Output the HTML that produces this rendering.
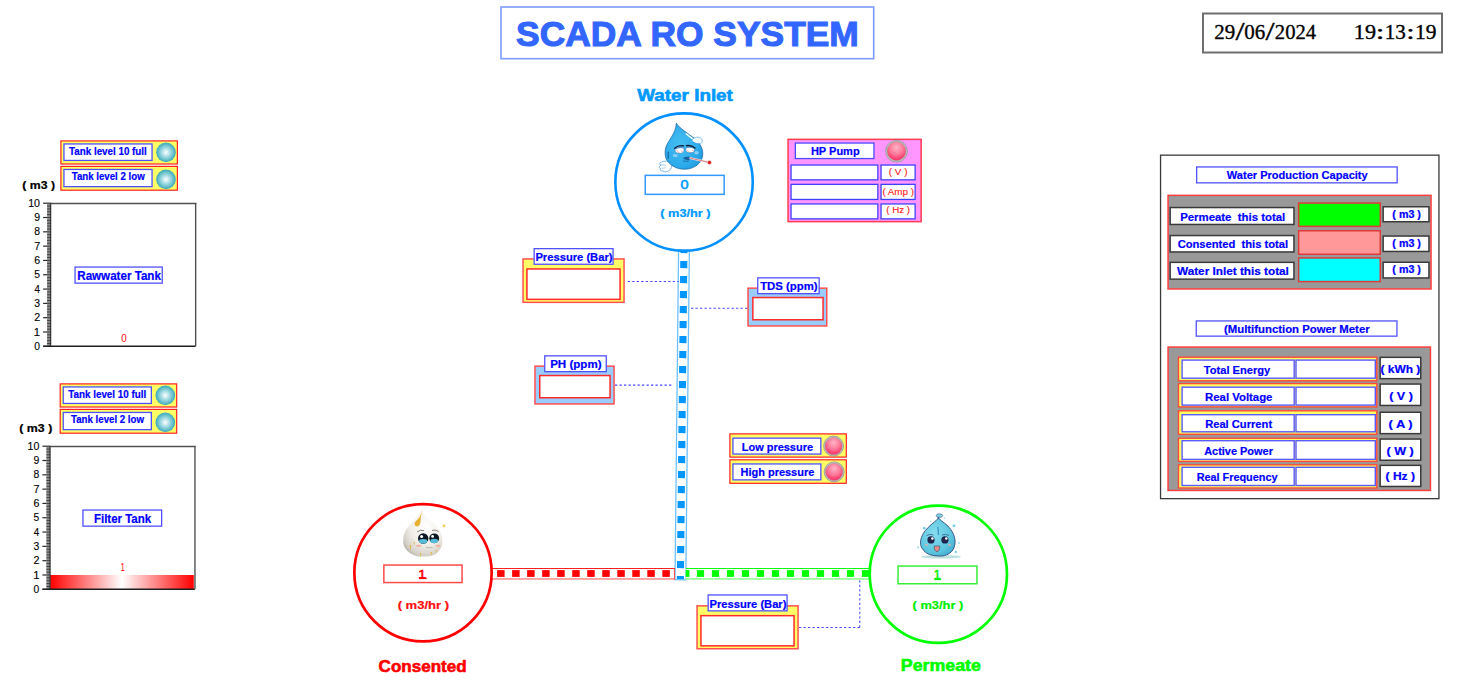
<!DOCTYPE html>
<html><head><meta charset="utf-8"><title>SCADA RO SYSTEM</title>
<style>
html,body{margin:0;padding:0;background:#fff;width:1472px;height:698px;overflow:hidden;}
svg{display:block;}
svg text{white-space:pre;}
</style></head><body>
<svg width="1472" height="698" viewBox="0 0 1472 698">
<defs>
<radialGradient id="gTeal" cx="0.5" cy="0.5" r="0.5"><stop offset="0" stop-color="#ffffff"/><stop offset="0.55" stop-color="#8fd3dc"/><stop offset="1" stop-color="#3aa9b7"/></radialGradient>
<radialGradient id="gRed" cx="0.5" cy="0.35" r="0.65" fx="0.5" fy="0.3"><stop offset="0" stop-color="#ffb4c8"/><stop offset="0.55" stop-color="#ff7898"/><stop offset="1" stop-color="#ff2860"/></radialGradient>
<radialGradient id="gRing" cx="0.5" cy="0.5" r="0.5"><stop offset="0.8" stop-color="#c8c8c8"/><stop offset="1" stop-color="#8a8a8a"/></radialGradient>
<linearGradient id="gBar" x1="0" x2="1" y1="0" y2="0"><stop offset="0" stop-color="#ff0000"/><stop offset="0.5" stop-color="#ffffff"/><stop offset="1" stop-color="#ff0000"/></linearGradient>
<radialGradient id="gWhite" cx="0.6" cy="0.35" r="0.75"><stop offset="0" stop-color="#ffffff"/><stop offset="0.55" stop-color="#f1eee7"/><stop offset="0.85" stop-color="#d4d0c8"/><stop offset="1" stop-color="#b0ada6"/></radialGradient>
<radialGradient id="gAqua" cx="0.4" cy="0.4" r="0.7"><stop offset="0" stop-color="#86dcee"/><stop offset="0.7" stop-color="#5cc6df"/><stop offset="1" stop-color="#44acd0"/></radialGradient>
<radialGradient id="gBlueDrop" cx="0.4" cy="0.45" r="0.7"><stop offset="0" stop-color="#46bef2"/><stop offset="0.7" stop-color="#2caaea"/><stop offset="1" stop-color="#1c96dc"/></radialGradient>
</defs>
<rect x="501.00" y="7.00" width="372.70" height="51.70" fill="#fff" stroke="#7d9cff" stroke-width="1.6" />
<text x="516.04" y="46.10" font-family="Liberation Sans" font-weight="bold" font-size="35.65" fill="#3366ff" textLength="342.81" lengthAdjust="spacingAndGlyphs"  stroke="#3366ff" stroke-width="1.1">SCADA RO SYSTEM</text>
<rect x="1203.00" y="13.50" width="239.00" height="39.00" fill="#fff" stroke="#6e6e6e" stroke-width="2" />
<text x="1214.16" y="38.89" font-family="Liberation Serif" font-weight="normal" font-size="20.74" fill="#000" textLength="20.98" lengthAdjust="spacingAndGlyphs"  stroke="#000" stroke-width="0.35">29</text>
<text x="1235.60" y="39.55" font-family="Liberation Serif" font-weight="normal" font-size="24.78" fill="#000" textLength="9.09" lengthAdjust="spacingAndGlyphs"  stroke="#000" stroke-width="0.35">/</text>
<text x="1244.26" y="38.89" font-family="Liberation Serif" font-weight="normal" font-size="20.74" fill="#000" textLength="20.97" lengthAdjust="spacingAndGlyphs"  stroke="#000" stroke-width="0.35">06</text>
<text x="1265.50" y="39.55" font-family="Liberation Serif" font-weight="normal" font-size="24.78" fill="#000" textLength="9.09" lengthAdjust="spacingAndGlyphs"  stroke="#000" stroke-width="0.35">/</text>
<text x="1274.87" y="38.89" font-family="Liberation Serif" font-weight="normal" font-size="20.74" fill="#000" textLength="41.24" lengthAdjust="spacingAndGlyphs"  stroke="#000" stroke-width="0.35">2024</text>
<text x="1353.80" y="38.79" font-family="Liberation Serif" font-weight="normal" font-size="20.74" fill="#000" textLength="22.18" lengthAdjust="spacingAndGlyphs"  stroke="#000" stroke-width="0.35">19</text>
<text x="1375.80" y="38.70" font-family="Liberation Serif" font-weight="normal" font-size="20.00" fill="#000" textLength="8.70" lengthAdjust="spacingAndGlyphs"  stroke="#000" stroke-width="0.35">:</text>
<text x="1384.81" y="38.79" font-family="Liberation Serif" font-weight="normal" font-size="20.74" fill="#000" textLength="21.03" lengthAdjust="spacingAndGlyphs"  stroke="#000" stroke-width="0.35">13</text>
<text x="1406.17" y="38.70" font-family="Liberation Serif" font-weight="normal" font-size="20.00" fill="#000" textLength="8.46" lengthAdjust="spacingAndGlyphs"  stroke="#000" stroke-width="0.35">:</text>
<text x="1414.97" y="38.79" font-family="Liberation Serif" font-weight="normal" font-size="20.74" fill="#000" textLength="21.49" lengthAdjust="spacingAndGlyphs"  stroke="#000" stroke-width="0.35">19</text>
<rect x="60.90" y="140.90" width="116.50" height="23.10" fill="#ffff66" stroke="#ff2020" stroke-width="1.2" />
<rect x="63.95" y="143.95" width="88.10" height="16.50" fill="#fff" stroke="#5050ff" stroke-width="1.3" />
<text x="69.00" y="155.00" font-family="Liberation Sans" font-weight="bold" font-size="11.03" fill="#0000ff" textLength="77.83" lengthAdjust="spacingAndGlyphs"  stroke="#0000ff" stroke-width="0.22">Tank level 10 full</text>
<circle cx="166" cy="152.4" r="9.8" fill="url(#gTeal)" stroke="none" stroke-width="1" />
<rect x="60.90" y="166.40" width="116.50" height="23.80" fill="#ffff66" stroke="#ff2020" stroke-width="1.2" />
<rect x="63.95" y="169.45" width="88.10" height="17.20" fill="#fff" stroke="#5050ff" stroke-width="1.3" />
<text x="71.70" y="180.00" font-family="Liberation Sans" font-weight="bold" font-size="11.03" fill="#0000ff" textLength="73.00" lengthAdjust="spacingAndGlyphs"  stroke="#0000ff" stroke-width="0.22">Tank level 2 low</text>
<circle cx="166" cy="179.4" r="9.8" fill="url(#gTeal)" stroke="none" stroke-width="1" />
<text x="22.39" y="189.45" font-family="Liberation Sans" font-weight="bold" font-size="11.66" fill="#000" textLength="32.69" lengthAdjust="spacingAndGlyphs"  stroke="#000" stroke-width="0.22">( m3 )</text>
<line x1="47.1" y1="203.45" x2="196.4" y2="203.45" stroke="#505050" stroke-width="1.4" />
<line x1="195.65" y1="203.2" x2="195.65" y2="346.3" stroke="#505050" stroke-width="1.4" />
<rect x="47.10" y="203.20" width="4.00" height="143.10" fill="#8c8c8c" stroke="none" stroke-width="1" />
<line x1="47.1" y1="203.2" x2="51.1" y2="203.2" stroke="#3c3c3c" stroke-width="0.9" />
<line x1="47.1" y1="206.06199999999998" x2="51.1" y2="206.06199999999998" stroke="#3c3c3c" stroke-width="0.9" />
<line x1="47.1" y1="208.92399999999998" x2="51.1" y2="208.92399999999998" stroke="#3c3c3c" stroke-width="0.9" />
<line x1="47.1" y1="211.786" x2="51.1" y2="211.786" stroke="#3c3c3c" stroke-width="0.9" />
<line x1="47.1" y1="214.648" x2="51.1" y2="214.648" stroke="#3c3c3c" stroke-width="0.9" />
<line x1="47.1" y1="217.51" x2="51.1" y2="217.51" stroke="#3c3c3c" stroke-width="0.9" />
<line x1="47.1" y1="220.37199999999999" x2="51.1" y2="220.37199999999999" stroke="#3c3c3c" stroke-width="0.9" />
<line x1="47.1" y1="223.23399999999998" x2="51.1" y2="223.23399999999998" stroke="#3c3c3c" stroke-width="0.9" />
<line x1="47.1" y1="226.096" x2="51.1" y2="226.096" stroke="#3c3c3c" stroke-width="0.9" />
<line x1="47.1" y1="228.958" x2="51.1" y2="228.958" stroke="#3c3c3c" stroke-width="0.9" />
<line x1="47.1" y1="231.82" x2="51.1" y2="231.82" stroke="#3c3c3c" stroke-width="0.9" />
<line x1="47.1" y1="234.682" x2="51.1" y2="234.682" stroke="#3c3c3c" stroke-width="0.9" />
<line x1="47.1" y1="237.54399999999998" x2="51.1" y2="237.54399999999998" stroke="#3c3c3c" stroke-width="0.9" />
<line x1="47.1" y1="240.406" x2="51.1" y2="240.406" stroke="#3c3c3c" stroke-width="0.9" />
<line x1="47.1" y1="243.268" x2="51.1" y2="243.268" stroke="#3c3c3c" stroke-width="0.9" />
<line x1="47.1" y1="246.13" x2="51.1" y2="246.13" stroke="#3c3c3c" stroke-width="0.9" />
<line x1="47.1" y1="248.992" x2="51.1" y2="248.992" stroke="#3c3c3c" stroke-width="0.9" />
<line x1="47.1" y1="251.85399999999998" x2="51.1" y2="251.85399999999998" stroke="#3c3c3c" stroke-width="0.9" />
<line x1="47.1" y1="254.716" x2="51.1" y2="254.716" stroke="#3c3c3c" stroke-width="0.9" />
<line x1="47.1" y1="257.578" x2="51.1" y2="257.578" stroke="#3c3c3c" stroke-width="0.9" />
<line x1="47.1" y1="260.44" x2="51.1" y2="260.44" stroke="#3c3c3c" stroke-width="0.9" />
<line x1="47.1" y1="263.302" x2="51.1" y2="263.302" stroke="#3c3c3c" stroke-width="0.9" />
<line x1="47.1" y1="266.164" x2="51.1" y2="266.164" stroke="#3c3c3c" stroke-width="0.9" />
<line x1="47.1" y1="269.026" x2="51.1" y2="269.026" stroke="#3c3c3c" stroke-width="0.9" />
<line x1="47.1" y1="271.88800000000003" x2="51.1" y2="271.88800000000003" stroke="#3c3c3c" stroke-width="0.9" />
<line x1="47.1" y1="274.75" x2="51.1" y2="274.75" stroke="#3c3c3c" stroke-width="0.9" />
<line x1="47.1" y1="277.61199999999997" x2="51.1" y2="277.61199999999997" stroke="#3c3c3c" stroke-width="0.9" />
<line x1="47.1" y1="280.474" x2="51.1" y2="280.474" stroke="#3c3c3c" stroke-width="0.9" />
<line x1="47.1" y1="283.336" x2="51.1" y2="283.336" stroke="#3c3c3c" stroke-width="0.9" />
<line x1="47.1" y1="286.198" x2="51.1" y2="286.198" stroke="#3c3c3c" stroke-width="0.9" />
<line x1="47.1" y1="289.06" x2="51.1" y2="289.06" stroke="#3c3c3c" stroke-width="0.9" />
<line x1="47.1" y1="291.922" x2="51.1" y2="291.922" stroke="#3c3c3c" stroke-width="0.9" />
<line x1="47.1" y1="294.784" x2="51.1" y2="294.784" stroke="#3c3c3c" stroke-width="0.9" />
<line x1="47.1" y1="297.646" x2="51.1" y2="297.646" stroke="#3c3c3c" stroke-width="0.9" />
<line x1="47.1" y1="300.50800000000004" x2="51.1" y2="300.50800000000004" stroke="#3c3c3c" stroke-width="0.9" />
<line x1="47.1" y1="303.37" x2="51.1" y2="303.37" stroke="#3c3c3c" stroke-width="0.9" />
<line x1="47.1" y1="306.23199999999997" x2="51.1" y2="306.23199999999997" stroke="#3c3c3c" stroke-width="0.9" />
<line x1="47.1" y1="309.094" x2="51.1" y2="309.094" stroke="#3c3c3c" stroke-width="0.9" />
<line x1="47.1" y1="311.956" x2="51.1" y2="311.956" stroke="#3c3c3c" stroke-width="0.9" />
<line x1="47.1" y1="314.818" x2="51.1" y2="314.818" stroke="#3c3c3c" stroke-width="0.9" />
<line x1="47.1" y1="317.68" x2="51.1" y2="317.68" stroke="#3c3c3c" stroke-width="0.9" />
<line x1="47.1" y1="320.54200000000003" x2="51.1" y2="320.54200000000003" stroke="#3c3c3c" stroke-width="0.9" />
<line x1="47.1" y1="323.404" x2="51.1" y2="323.404" stroke="#3c3c3c" stroke-width="0.9" />
<line x1="47.1" y1="326.266" x2="51.1" y2="326.266" stroke="#3c3c3c" stroke-width="0.9" />
<line x1="47.1" y1="329.12800000000004" x2="51.1" y2="329.12800000000004" stroke="#3c3c3c" stroke-width="0.9" />
<line x1="47.1" y1="331.99" x2="51.1" y2="331.99" stroke="#3c3c3c" stroke-width="0.9" />
<line x1="47.1" y1="334.852" x2="51.1" y2="334.852" stroke="#3c3c3c" stroke-width="0.9" />
<line x1="47.1" y1="337.71400000000006" x2="51.1" y2="337.71400000000006" stroke="#3c3c3c" stroke-width="0.9" />
<line x1="47.1" y1="340.576" x2="51.1" y2="340.576" stroke="#3c3c3c" stroke-width="0.9" />
<line x1="47.1" y1="343.438" x2="51.1" y2="343.438" stroke="#3c3c3c" stroke-width="0.9" />
<line x1="47.1" y1="346.3" x2="51.1" y2="346.3" stroke="#3c3c3c" stroke-width="0.9" />
<line x1="50.7" y1="203.2" x2="50.7" y2="346.3" stroke="#2a2a2a" stroke-width="1" />
<line x1="43.1" y1="346.3" x2="195.5" y2="346.3" stroke="#1e1e1e" stroke-width="1.6" />
<line x1="43.1" y1="346.3" x2="47.1" y2="346.3" stroke="#2a2a2a" stroke-width="1.2" />
<text x="34.29" y="349.94" font-family="Liberation Sans" font-weight="normal" font-size="10.56" fill="#000" textLength="5.74" lengthAdjust="spacingAndGlyphs"  stroke="#000" stroke-width="0.12">0</text>
<line x1="43.1" y1="331.99" x2="47.1" y2="331.99" stroke="#2a2a2a" stroke-width="1.2" />
<text x="33.86" y="335.63" font-family="Liberation Sans" font-weight="normal" font-size="10.56" fill="#000" textLength="6.26" lengthAdjust="spacingAndGlyphs"  stroke="#000" stroke-width="0.12">1</text>
<line x1="43.1" y1="317.68" x2="47.1" y2="317.68" stroke="#2a2a2a" stroke-width="1.2" />
<text x="34.16" y="321.32" font-family="Liberation Sans" font-weight="normal" font-size="10.56" fill="#000" textLength="5.99" lengthAdjust="spacingAndGlyphs"  stroke="#000" stroke-width="0.12">2</text>
<line x1="43.1" y1="303.37" x2="47.1" y2="303.37" stroke="#2a2a2a" stroke-width="1.2" />
<text x="34.28" y="307.01" font-family="Liberation Sans" font-weight="normal" font-size="10.56" fill="#000" textLength="5.80" lengthAdjust="spacingAndGlyphs"  stroke="#000" stroke-width="0.12">3</text>
<line x1="43.1" y1="289.06" x2="47.1" y2="289.06" stroke="#2a2a2a" stroke-width="1.2" />
<text x="34.46" y="292.70" font-family="Liberation Sans" font-weight="normal" font-size="10.56" fill="#000" textLength="5.45" lengthAdjust="spacingAndGlyphs"  stroke="#000" stroke-width="0.12">4</text>
<line x1="43.1" y1="274.75" x2="47.1" y2="274.75" stroke="#2a2a2a" stroke-width="1.2" />
<text x="34.29" y="278.39" font-family="Liberation Sans" font-weight="normal" font-size="10.56" fill="#000" textLength="5.74" lengthAdjust="spacingAndGlyphs"  stroke="#000" stroke-width="0.12">5</text>
<line x1="43.1" y1="260.44" x2="47.1" y2="260.44" stroke="#2a2a2a" stroke-width="1.2" />
<text x="34.17" y="264.08" font-family="Liberation Sans" font-weight="normal" font-size="10.56" fill="#000" textLength="5.92" lengthAdjust="spacingAndGlyphs"  stroke="#000" stroke-width="0.12">6</text>
<line x1="43.1" y1="246.13" x2="47.1" y2="246.13" stroke="#2a2a2a" stroke-width="1.2" />
<text x="34.16" y="249.77" font-family="Liberation Sans" font-weight="normal" font-size="10.56" fill="#000" textLength="5.99" lengthAdjust="spacingAndGlyphs"  stroke="#000" stroke-width="0.12">7</text>
<line x1="43.1" y1="231.82" x2="47.1" y2="231.82" stroke="#2a2a2a" stroke-width="1.2" />
<text x="34.23" y="235.46" font-family="Liberation Sans" font-weight="normal" font-size="10.56" fill="#000" textLength="5.80" lengthAdjust="spacingAndGlyphs"  stroke="#000" stroke-width="0.12">8</text>
<line x1="43.1" y1="217.51" x2="47.1" y2="217.51" stroke="#2a2a2a" stroke-width="1.2" />
<text x="34.23" y="221.15" font-family="Liberation Sans" font-weight="normal" font-size="10.56" fill="#000" textLength="5.86" lengthAdjust="spacingAndGlyphs"  stroke="#000" stroke-width="0.12">9</text>
<line x1="43.1" y1="203.2" x2="47.1" y2="203.2" stroke="#2a2a2a" stroke-width="1.2" />
<text x="28.20" y="206.84" font-family="Liberation Sans" font-weight="normal" font-size="10.56" fill="#000" textLength="11.85" lengthAdjust="spacingAndGlyphs"  stroke="#000" stroke-width="0.12">10</text>
<rect x="75.05" y="267.05" width="87.20" height="16.10" fill="#fff" stroke="#5050ff" stroke-width="1.3" />
<text x="77.25" y="280.00" font-family="Liberation Sans" font-weight="bold" font-size="12.41" fill="#0000ff" textLength="83.67" lengthAdjust="spacingAndGlyphs"  stroke="#0000ff" stroke-width="0.22">Rawwater Tank</text>
<text x="121.21" y="341.89" font-family="Liberation Sans" font-weight="normal" font-size="10.56" fill="#ff2020" textLength="5.39" lengthAdjust="spacingAndGlyphs"  stroke="#ff2020" stroke-width="0.12">0</text>
<rect x="60.20" y="383.90" width="116.50" height="23.10" fill="#ffff66" stroke="#ff2020" stroke-width="1.2" />
<rect x="63.25" y="386.95" width="88.10" height="16.50" fill="#fff" stroke="#5050ff" stroke-width="1.3" />
<text x="68.30" y="398.00" font-family="Liberation Sans" font-weight="bold" font-size="11.03" fill="#0000ff" textLength="77.83" lengthAdjust="spacingAndGlyphs"  stroke="#0000ff" stroke-width="0.22">Tank level 10 full</text>
<circle cx="165.3" cy="395.4" r="9.8" fill="url(#gTeal)" stroke="none" stroke-width="1" />
<rect x="60.20" y="409.40" width="116.50" height="23.80" fill="#ffff66" stroke="#ff2020" stroke-width="1.2" />
<rect x="63.25" y="412.45" width="88.10" height="17.20" fill="#fff" stroke="#5050ff" stroke-width="1.3" />
<text x="71.00" y="423.00" font-family="Liberation Sans" font-weight="bold" font-size="11.03" fill="#0000ff" textLength="73.00" lengthAdjust="spacingAndGlyphs"  stroke="#0000ff" stroke-width="0.22">Tank level 2 low</text>
<circle cx="165.3" cy="422.4" r="9.8" fill="url(#gTeal)" stroke="none" stroke-width="1" />
<text x="19.28" y="432.45" font-family="Liberation Sans" font-weight="bold" font-size="11.66" fill="#000" textLength="33.00" lengthAdjust="spacingAndGlyphs"  stroke="#000" stroke-width="0.22">( m3 )</text>
<rect x="50.00" y="574.99" width="143.80" height="14.31" fill="url(#gBar)" stroke="none" stroke-width="1" />
<line x1="46.4" y1="446.45" x2="195.70000000000002" y2="446.45" stroke="#505050" stroke-width="1.4" />
<line x1="194.95000000000002" y1="446.2" x2="194.95000000000002" y2="589.3" stroke="#505050" stroke-width="1.4" />
<rect x="46.40" y="446.20" width="4.00" height="143.10" fill="#8c8c8c" stroke="none" stroke-width="1" />
<line x1="46.4" y1="446.2" x2="50.4" y2="446.2" stroke="#3c3c3c" stroke-width="0.9" />
<line x1="46.4" y1="449.062" x2="50.4" y2="449.062" stroke="#3c3c3c" stroke-width="0.9" />
<line x1="46.4" y1="451.924" x2="50.4" y2="451.924" stroke="#3c3c3c" stroke-width="0.9" />
<line x1="46.4" y1="454.786" x2="50.4" y2="454.786" stroke="#3c3c3c" stroke-width="0.9" />
<line x1="46.4" y1="457.64799999999997" x2="50.4" y2="457.64799999999997" stroke="#3c3c3c" stroke-width="0.9" />
<line x1="46.4" y1="460.51" x2="50.4" y2="460.51" stroke="#3c3c3c" stroke-width="0.9" />
<line x1="46.4" y1="463.37199999999996" x2="50.4" y2="463.37199999999996" stroke="#3c3c3c" stroke-width="0.9" />
<line x1="46.4" y1="466.234" x2="50.4" y2="466.234" stroke="#3c3c3c" stroke-width="0.9" />
<line x1="46.4" y1="469.096" x2="50.4" y2="469.096" stroke="#3c3c3c" stroke-width="0.9" />
<line x1="46.4" y1="471.95799999999997" x2="50.4" y2="471.95799999999997" stroke="#3c3c3c" stroke-width="0.9" />
<line x1="46.4" y1="474.82" x2="50.4" y2="474.82" stroke="#3c3c3c" stroke-width="0.9" />
<line x1="46.4" y1="477.68199999999996" x2="50.4" y2="477.68199999999996" stroke="#3c3c3c" stroke-width="0.9" />
<line x1="46.4" y1="480.544" x2="50.4" y2="480.544" stroke="#3c3c3c" stroke-width="0.9" />
<line x1="46.4" y1="483.406" x2="50.4" y2="483.406" stroke="#3c3c3c" stroke-width="0.9" />
<line x1="46.4" y1="486.268" x2="50.4" y2="486.268" stroke="#3c3c3c" stroke-width="0.9" />
<line x1="46.4" y1="489.13" x2="50.4" y2="489.13" stroke="#3c3c3c" stroke-width="0.9" />
<line x1="46.4" y1="491.99199999999996" x2="50.4" y2="491.99199999999996" stroke="#3c3c3c" stroke-width="0.9" />
<line x1="46.4" y1="494.854" x2="50.4" y2="494.854" stroke="#3c3c3c" stroke-width="0.9" />
<line x1="46.4" y1="497.71599999999995" x2="50.4" y2="497.71599999999995" stroke="#3c3c3c" stroke-width="0.9" />
<line x1="46.4" y1="500.578" x2="50.4" y2="500.578" stroke="#3c3c3c" stroke-width="0.9" />
<line x1="46.4" y1="503.44" x2="50.4" y2="503.44" stroke="#3c3c3c" stroke-width="0.9" />
<line x1="46.4" y1="506.30199999999996" x2="50.4" y2="506.30199999999996" stroke="#3c3c3c" stroke-width="0.9" />
<line x1="46.4" y1="509.164" x2="50.4" y2="509.164" stroke="#3c3c3c" stroke-width="0.9" />
<line x1="46.4" y1="512.026" x2="50.4" y2="512.026" stroke="#3c3c3c" stroke-width="0.9" />
<line x1="46.4" y1="514.8879999999999" x2="50.4" y2="514.8879999999999" stroke="#3c3c3c" stroke-width="0.9" />
<line x1="46.4" y1="517.75" x2="50.4" y2="517.75" stroke="#3c3c3c" stroke-width="0.9" />
<line x1="46.4" y1="520.612" x2="50.4" y2="520.612" stroke="#3c3c3c" stroke-width="0.9" />
<line x1="46.4" y1="523.4739999999999" x2="50.4" y2="523.4739999999999" stroke="#3c3c3c" stroke-width="0.9" />
<line x1="46.4" y1="526.336" x2="50.4" y2="526.336" stroke="#3c3c3c" stroke-width="0.9" />
<line x1="46.4" y1="529.198" x2="50.4" y2="529.198" stroke="#3c3c3c" stroke-width="0.9" />
<line x1="46.4" y1="532.06" x2="50.4" y2="532.06" stroke="#3c3c3c" stroke-width="0.9" />
<line x1="46.4" y1="534.922" x2="50.4" y2="534.922" stroke="#3c3c3c" stroke-width="0.9" />
<line x1="46.4" y1="537.784" x2="50.4" y2="537.784" stroke="#3c3c3c" stroke-width="0.9" />
<line x1="46.4" y1="540.646" x2="50.4" y2="540.646" stroke="#3c3c3c" stroke-width="0.9" />
<line x1="46.4" y1="543.5079999999999" x2="50.4" y2="543.5079999999999" stroke="#3c3c3c" stroke-width="0.9" />
<line x1="46.4" y1="546.37" x2="50.4" y2="546.37" stroke="#3c3c3c" stroke-width="0.9" />
<line x1="46.4" y1="549.232" x2="50.4" y2="549.232" stroke="#3c3c3c" stroke-width="0.9" />
<line x1="46.4" y1="552.0939999999999" x2="50.4" y2="552.0939999999999" stroke="#3c3c3c" stroke-width="0.9" />
<line x1="46.4" y1="554.9559999999999" x2="50.4" y2="554.9559999999999" stroke="#3c3c3c" stroke-width="0.9" />
<line x1="46.4" y1="557.818" x2="50.4" y2="557.818" stroke="#3c3c3c" stroke-width="0.9" />
<line x1="46.4" y1="560.68" x2="50.4" y2="560.68" stroke="#3c3c3c" stroke-width="0.9" />
<line x1="46.4" y1="563.5419999999999" x2="50.4" y2="563.5419999999999" stroke="#3c3c3c" stroke-width="0.9" />
<line x1="46.4" y1="566.404" x2="50.4" y2="566.404" stroke="#3c3c3c" stroke-width="0.9" />
<line x1="46.4" y1="569.266" x2="50.4" y2="569.266" stroke="#3c3c3c" stroke-width="0.9" />
<line x1="46.4" y1="572.1279999999999" x2="50.4" y2="572.1279999999999" stroke="#3c3c3c" stroke-width="0.9" />
<line x1="46.4" y1="574.99" x2="50.4" y2="574.99" stroke="#3c3c3c" stroke-width="0.9" />
<line x1="46.4" y1="577.852" x2="50.4" y2="577.852" stroke="#3c3c3c" stroke-width="0.9" />
<line x1="46.4" y1="580.7139999999999" x2="50.4" y2="580.7139999999999" stroke="#3c3c3c" stroke-width="0.9" />
<line x1="46.4" y1="583.576" x2="50.4" y2="583.576" stroke="#3c3c3c" stroke-width="0.9" />
<line x1="46.4" y1="586.438" x2="50.4" y2="586.438" stroke="#3c3c3c" stroke-width="0.9" />
<line x1="46.4" y1="589.3" x2="50.4" y2="589.3" stroke="#3c3c3c" stroke-width="0.9" />
<line x1="50.0" y1="446.2" x2="50.0" y2="589.3" stroke="#2a2a2a" stroke-width="1" />
<line x1="42.4" y1="589.3" x2="194.8" y2="589.3" stroke="#1e1e1e" stroke-width="1.6" />
<line x1="42.4" y1="589.3" x2="46.4" y2="589.3" stroke="#2a2a2a" stroke-width="1.2" />
<text x="33.59" y="592.94" font-family="Liberation Sans" font-weight="normal" font-size="10.56" fill="#000" textLength="5.74" lengthAdjust="spacingAndGlyphs"  stroke="#000" stroke-width="0.12">0</text>
<line x1="42.4" y1="574.99" x2="46.4" y2="574.99" stroke="#2a2a2a" stroke-width="1.2" />
<text x="33.16" y="578.63" font-family="Liberation Sans" font-weight="normal" font-size="10.56" fill="#000" textLength="6.26" lengthAdjust="spacingAndGlyphs"  stroke="#000" stroke-width="0.12">1</text>
<line x1="42.4" y1="560.68" x2="46.4" y2="560.68" stroke="#2a2a2a" stroke-width="1.2" />
<text x="33.46" y="564.32" font-family="Liberation Sans" font-weight="normal" font-size="10.56" fill="#000" textLength="5.99" lengthAdjust="spacingAndGlyphs"  stroke="#000" stroke-width="0.12">2</text>
<line x1="42.4" y1="546.37" x2="46.4" y2="546.37" stroke="#2a2a2a" stroke-width="1.2" />
<text x="33.58" y="550.01" font-family="Liberation Sans" font-weight="normal" font-size="10.56" fill="#000" textLength="5.80" lengthAdjust="spacingAndGlyphs"  stroke="#000" stroke-width="0.12">3</text>
<line x1="42.4" y1="532.06" x2="46.4" y2="532.06" stroke="#2a2a2a" stroke-width="1.2" />
<text x="33.76" y="535.70" font-family="Liberation Sans" font-weight="normal" font-size="10.56" fill="#000" textLength="5.45" lengthAdjust="spacingAndGlyphs"  stroke="#000" stroke-width="0.12">4</text>
<line x1="42.4" y1="517.75" x2="46.4" y2="517.75" stroke="#2a2a2a" stroke-width="1.2" />
<text x="33.59" y="521.39" font-family="Liberation Sans" font-weight="normal" font-size="10.56" fill="#000" textLength="5.74" lengthAdjust="spacingAndGlyphs"  stroke="#000" stroke-width="0.12">5</text>
<line x1="42.4" y1="503.43999999999994" x2="46.4" y2="503.43999999999994" stroke="#2a2a2a" stroke-width="1.2" />
<text x="33.47" y="507.08" font-family="Liberation Sans" font-weight="normal" font-size="10.56" fill="#000" textLength="5.92" lengthAdjust="spacingAndGlyphs"  stroke="#000" stroke-width="0.12">6</text>
<line x1="42.4" y1="489.13" x2="46.4" y2="489.13" stroke="#2a2a2a" stroke-width="1.2" />
<text x="33.46" y="492.77" font-family="Liberation Sans" font-weight="normal" font-size="10.56" fill="#000" textLength="5.99" lengthAdjust="spacingAndGlyphs"  stroke="#000" stroke-width="0.12">7</text>
<line x1="42.4" y1="474.82" x2="46.4" y2="474.82" stroke="#2a2a2a" stroke-width="1.2" />
<text x="33.53" y="478.46" font-family="Liberation Sans" font-weight="normal" font-size="10.56" fill="#000" textLength="5.80" lengthAdjust="spacingAndGlyphs"  stroke="#000" stroke-width="0.12">8</text>
<line x1="42.4" y1="460.51" x2="46.4" y2="460.51" stroke="#2a2a2a" stroke-width="1.2" />
<text x="33.53" y="464.15" font-family="Liberation Sans" font-weight="normal" font-size="10.56" fill="#000" textLength="5.86" lengthAdjust="spacingAndGlyphs"  stroke="#000" stroke-width="0.12">9</text>
<line x1="42.4" y1="446.2" x2="46.4" y2="446.2" stroke="#2a2a2a" stroke-width="1.2" />
<text x="27.50" y="449.84" font-family="Liberation Sans" font-weight="normal" font-size="10.56" fill="#000" textLength="11.85" lengthAdjust="spacingAndGlyphs"  stroke="#000" stroke-width="0.12">10</text>
<rect x="82.95" y="510.05" width="78.70" height="16.10" fill="#fff" stroke="#5050ff" stroke-width="1.3" />
<text x="93.95" y="523.00" font-family="Liberation Sans" font-weight="bold" font-size="12.41" fill="#0000ff" textLength="57.17" lengthAdjust="spacingAndGlyphs"  stroke="#0000ff" stroke-width="0.22">Filter Tank</text>
<text x="120.61" y="570.89" font-family="Liberation Sans" font-weight="normal" font-size="10.56" fill="#ff2020" textLength="4.35" lengthAdjust="spacingAndGlyphs"  stroke="#ff2020" stroke-width="0.12">1</text>
<g transform="rotate(0.62 683.95 252)">
<rect x="678.55" y="250.00" width="10.80" height="329.70" fill="#fff" stroke="#6ec0ff" stroke-width="1.3" />
<rect x="680.35" y="250.50" width="7.10" height="2.65" fill="#0096ff" stroke="none" stroke-width="1" />
<rect x="680.35" y="261.05" width="7.10" height="7.10" fill="#0096ff" stroke="none" stroke-width="1" />
<rect x="680.35" y="276.05" width="7.10" height="7.10" fill="#0096ff" stroke="none" stroke-width="1" />
<rect x="680.35" y="291.05" width="7.10" height="7.10" fill="#0096ff" stroke="none" stroke-width="1" />
<rect x="680.35" y="306.05" width="7.10" height="7.10" fill="#0096ff" stroke="none" stroke-width="1" />
<rect x="680.35" y="321.05" width="7.10" height="7.10" fill="#0096ff" stroke="none" stroke-width="1" />
<rect x="680.35" y="336.05" width="7.10" height="7.10" fill="#0096ff" stroke="none" stroke-width="1" />
<rect x="680.35" y="351.05" width="7.10" height="7.10" fill="#0096ff" stroke="none" stroke-width="1" />
<rect x="680.35" y="366.05" width="7.10" height="7.10" fill="#0096ff" stroke="none" stroke-width="1" />
<rect x="680.35" y="381.05" width="7.10" height="7.10" fill="#0096ff" stroke="none" stroke-width="1" />
<rect x="680.35" y="396.05" width="7.10" height="7.10" fill="#0096ff" stroke="none" stroke-width="1" />
<rect x="680.35" y="411.05" width="7.10" height="7.10" fill="#0096ff" stroke="none" stroke-width="1" />
<rect x="680.35" y="426.05" width="7.10" height="7.10" fill="#0096ff" stroke="none" stroke-width="1" />
<rect x="680.35" y="441.05" width="7.10" height="7.10" fill="#0096ff" stroke="none" stroke-width="1" />
<rect x="680.35" y="456.05" width="7.10" height="7.10" fill="#0096ff" stroke="none" stroke-width="1" />
<rect x="680.35" y="471.05" width="7.10" height="7.10" fill="#0096ff" stroke="none" stroke-width="1" />
<rect x="680.35" y="486.05" width="7.10" height="7.10" fill="#0096ff" stroke="none" stroke-width="1" />
<rect x="680.35" y="501.05" width="7.10" height="7.10" fill="#0096ff" stroke="none" stroke-width="1" />
<rect x="680.35" y="516.05" width="7.10" height="7.10" fill="#0096ff" stroke="none" stroke-width="1" />
<rect x="680.35" y="531.05" width="7.10" height="7.10" fill="#0096ff" stroke="none" stroke-width="1" />
<rect x="680.35" y="546.05" width="7.10" height="7.10" fill="#0096ff" stroke="none" stroke-width="1" />
<rect x="680.35" y="561.05" width="7.10" height="7.10" fill="#0096ff" stroke="none" stroke-width="1" />
<rect x="680.35" y="576.05" width="7.10" height="3.05" fill="#0096ff" stroke="none" stroke-width="1" />
</g>
<rect x="491.00" y="568.00" width="184.00" height="11.70" fill="#fff" stroke="none" stroke-width="1" />
<line x1="491" y1="568.45" x2="675" y2="568.45" stroke="#ff2020" stroke-width="1.1" />
<rect x="491.00" y="578.20" width="184.00" height="1.50" fill="#ff8a8a" stroke="none" stroke-width="1" />
<line x1="674.4" y1="568" x2="674.4" y2="579.7" stroke="#ff4040" stroke-width="1" />
<rect x="497.10" y="570.10" width="7.50" height="6.80" fill="#ff0000" stroke="none" stroke-width="1" />
<rect x="512.12" y="570.10" width="7.50" height="6.80" fill="#ff0000" stroke="none" stroke-width="1" />
<rect x="527.14" y="570.10" width="7.50" height="6.80" fill="#ff0000" stroke="none" stroke-width="1" />
<rect x="542.16" y="570.10" width="7.50" height="6.80" fill="#ff0000" stroke="none" stroke-width="1" />
<rect x="557.18" y="570.10" width="7.50" height="6.80" fill="#ff0000" stroke="none" stroke-width="1" />
<rect x="572.20" y="570.10" width="7.50" height="6.80" fill="#ff0000" stroke="none" stroke-width="1" />
<rect x="587.22" y="570.10" width="7.50" height="6.80" fill="#ff0000" stroke="none" stroke-width="1" />
<rect x="602.24" y="570.10" width="7.50" height="6.80" fill="#ff0000" stroke="none" stroke-width="1" />
<rect x="617.26" y="570.10" width="7.50" height="6.80" fill="#ff0000" stroke="none" stroke-width="1" />
<rect x="632.28" y="570.10" width="7.50" height="6.80" fill="#ff0000" stroke="none" stroke-width="1" />
<rect x="647.30" y="570.10" width="7.50" height="6.80" fill="#ff0000" stroke="none" stroke-width="1" />
<rect x="662.32" y="570.10" width="7.50" height="6.80" fill="#ff0000" stroke="none" stroke-width="1" />
<rect x="685.70" y="568.00" width="184.30" height="11.70" fill="#fff" stroke="none" stroke-width="1" />
<line x1="685.7" y1="568.45" x2="870" y2="568.45" stroke="#10ff10" stroke-width="1.1" />
<rect x="685.70" y="578.20" width="184.30" height="1.50" fill="#8cff8c" stroke="none" stroke-width="1" />
<rect x="685.70" y="570.10" width="3.70" height="6.80" fill="#00ff00" stroke="none" stroke-width="1" />
<rect x="696.90" y="570.10" width="7.20" height="6.80" fill="#00ff00" stroke="none" stroke-width="1" />
<rect x="711.90" y="570.10" width="7.20" height="6.80" fill="#00ff00" stroke="none" stroke-width="1" />
<rect x="726.90" y="570.10" width="7.20" height="6.80" fill="#00ff00" stroke="none" stroke-width="1" />
<rect x="741.90" y="570.10" width="7.20" height="6.80" fill="#00ff00" stroke="none" stroke-width="1" />
<rect x="756.90" y="570.10" width="7.20" height="6.80" fill="#00ff00" stroke="none" stroke-width="1" />
<rect x="771.90" y="570.10" width="7.20" height="6.80" fill="#00ff00" stroke="none" stroke-width="1" />
<rect x="786.90" y="570.10" width="7.20" height="6.80" fill="#00ff00" stroke="none" stroke-width="1" />
<rect x="801.90" y="570.10" width="7.20" height="6.80" fill="#00ff00" stroke="none" stroke-width="1" />
<rect x="816.90" y="570.10" width="7.20" height="6.80" fill="#00ff00" stroke="none" stroke-width="1" />
<rect x="831.90" y="570.10" width="7.20" height="6.80" fill="#00ff00" stroke="none" stroke-width="1" />
<rect x="846.90" y="570.10" width="7.20" height="6.80" fill="#00ff00" stroke="none" stroke-width="1" />
<rect x="861.90" y="570.10" width="7.10" height="6.80" fill="#00ff00" stroke="none" stroke-width="1" />
<line x1="627.7" y1="281.45" x2="678.5" y2="281.45" stroke="#4848ff" stroke-width="1.05" stroke-dasharray="2.3 2.2"/>
<line x1="615" y1="385.1" x2="672.4" y2="385.1" stroke="#4848ff" stroke-width="1.05" stroke-dasharray="2.3 2.2"/>
<line x1="691" y1="308.2" x2="747.3" y2="308.2" stroke="#4848ff" stroke-width="1.05" stroke-dasharray="2.3 2.2"/>
<line x1="799" y1="627.5" x2="859.8" y2="627.5" stroke="#4848ff" stroke-width="1.05" stroke-dasharray="2.3 2.2"/>
<line x1="859.8" y1="627.5" x2="859.8" y2="580.3" stroke="#4848ff" stroke-width="1.05" stroke-dasharray="2.3 2.2"/>
<circle cx="684.05" cy="182.1" r="68.7" fill="none" stroke="#0090ff" stroke-width="2.6" />
<circle cx="423" cy="572.7" r="68.65" fill="none" stroke="#ff0000" stroke-width="2.7" />
<circle cx="938.35" cy="574.2" r="68.65" fill="none" stroke="#00ff00" stroke-width="2.7" />
<rect x="645.25" y="175.35" width="78.90" height="19.00" fill="#fff" stroke="#3399ff" stroke-width="1.5" />
<rect x="383.85" y="565.05" width="78.20" height="17.50" fill="#fff" stroke="#ff4a4a" stroke-width="1.5" />
<rect x="898.05" y="566.05" width="78.90" height="17.70" fill="#fff" stroke="#38ee38" stroke-width="1.5" />
<text x="680.62" y="189.27" font-family="Liberation Sans" font-weight="normal" font-size="12.96" fill="#0099ff" textLength="8.08" lengthAdjust="spacingAndGlyphs"  stroke="#0099ff" stroke-width="0.55">0</text>
<text x="418.17" y="577.89" font-family="Liberation Sans" font-weight="normal" font-size="11.41" fill="#ff0000" textLength="7.67" lengthAdjust="spacingAndGlyphs"  stroke="#ff0000" stroke-width="0.5">1</text>
<rect x="419.00" y="577.60" width="7.60" height="1.50" fill="#ff0000" stroke="none" stroke-width="1" />
<text x="933.69" y="578.78" font-family="Liberation Sans" font-weight="normal" font-size="12.25" fill="#00ee00" textLength="6.78" lengthAdjust="spacingAndGlyphs"  stroke="#00ee00" stroke-width="0.5">1</text>
<rect x="934.30" y="578.60" width="6.90" height="1.50" fill="#00ee00" stroke="none" stroke-width="1" />
<text x="660.26" y="217.24" font-family="Liberation Sans" font-weight="bold" font-size="11.23" fill="#0099ff" textLength="50.37" lengthAdjust="spacingAndGlyphs"  stroke="#0099ff" stroke-width="0.22">( m3/hr )</text>
<text x="397.65" y="608.61" font-family="Liberation Sans" font-weight="bold" font-size="10.91" fill="#ff1010" textLength="51.50" lengthAdjust="spacingAndGlyphs"  stroke="#ff1010" stroke-width="0.22">( m3/hr )</text>
<text x="912.56" y="609.30" font-family="Liberation Sans" font-weight="bold" font-size="11.44" fill="#00ee00" textLength="50.79" lengthAdjust="spacingAndGlyphs"  stroke="#00ee00" stroke-width="0.22">( m3/hr )</text>
<text x="637.30" y="100.60" font-family="Liberation Sans" font-weight="bold" font-size="16.38" fill="#0099ff" textLength="95.58" lengthAdjust="spacingAndGlyphs"  stroke="#0099ff" stroke-width="0.6">Water Inlet</text>
<text x="378.62" y="671.80" font-family="Liberation Sans" font-weight="bold" font-size="16.81" fill="#ff0000" textLength="88.03" lengthAdjust="spacingAndGlyphs"  stroke="#ff0000" stroke-width="0.6">Consented</text>
<text x="900.84" y="670.50" font-family="Liberation Sans" font-weight="bold" font-size="16.67" fill="#00ff00" textLength="80.13" lengthAdjust="spacingAndGlyphs"  stroke="#00ff00" stroke-width="0.6">Permeate</text>
<g>
<path d="M670.5,162 C667,160.5 662.5,161 660.5,162.5 C659,163.5 659.5,165 661.5,165 C659,166 658.5,168 660.5,168.5 C659.5,170 661,171.5 663,171 C664,172.5 667,172 669,170.5 C671.5,169 672.5,166 671.5,163.5 Z" fill="#fff" stroke="#2a8ad0" stroke-width="0.6"/>
<path d="M662,165 L666,165 M661.5,168.3 L665.5,167.8" stroke="#2a8ad0" stroke-width="0.4"/>
<path d="M676.3,123.2 C680,129 688,133 695,139 C701,144 703.5,150 702.6,156 C701.5,163 695,168.5 686,169.2 C677,169.8 669,165 666,158.5 C664,152 665.5,146 669,141 C672.5,135.5 676,130 676.3,123.2 Z" fill="url(#gBlueDrop)" stroke="#16609e" stroke-width="0.7"/>
<path d="M686.3,133.8 L692.3,138.6" stroke="#e8f8ff" stroke-width="1.6" stroke-linecap="round"/>
<path d="M692,140.8 C692.5,137.5 697,136.5 700,137.5 C702.5,138.5 702.8,141.5 701.5,143 C699,144.3 695,143.5 692,140.8 Z" fill="#fff" stroke="#3a9ad8" stroke-width="0.6"/>
<path d="M695,138.5 L699.5,142.5 M697.5,137.5 L701.5,140.5" stroke="#8cc8ee" stroke-width="0.4"/>
<path d="M668.2,151.7 L668.2,158.7" stroke="#0d4a8a" stroke-width="0.9"/>
<ellipse cx="679.5" cy="149.9" rx="4.5" ry="3.4" fill="#fff" stroke="#1a5a9a" stroke-width="0.4"/>
<ellipse cx="690.2" cy="149.6" rx="4.4" ry="3.2" fill="#fff" stroke="#1a5a9a" stroke-width="0.4"/>
<path d="M675.3,148.3 Q679.5,145.6 683.8,147.4 L683.8,148.4 Q679.5,147 675.3,149.4 Z M686,147.2 Q690.2,145.4 694.4,148.1 L694.4,149 Q690.2,146.8 686,148.2 Z" fill="#4a90d0"/>
<path d="M674.6,148.2 Q678.5,145 683.6,145.9 M686.4,145.7 Q691,144.8 695,148" stroke="#081830" stroke-width="1.3" fill="none" stroke-linecap="round"/>
<path d="M676.5,150.5 l1.2,0.8 M678.5,151.8 l0.3,0.9 M681.5,150.8 l1,1 M687.5,150.5 l1,0.9 M690,151.8 l0.3,0.8 M692.5,150.3 l0.8,1" stroke="#d83030" stroke-width="0.6"/>
<ellipse cx="675.2" cy="155.6" rx="2.6" ry="1.7" fill="#86d0f6"/><ellipse cx="696.5" cy="152.8" rx="2.3" ry="1.7" fill="#86d0f6"/>
<path d="M683.5,158.3 Q686,156.5 689.5,157.3 Q691,158.7 689,159.6 Q686,160.2 683.5,158.3 Z" fill="#1a6aaa" stroke="#0a3a70" stroke-width="0.5"/>
<path d="M683,160.8 Q686,162 689,160.8" stroke="#0a3a70" stroke-width="0.5" fill="none"/>
<line x1="689.5" y1="158" x2="708.5" y2="162.2" stroke="#f4e2e2" stroke-width="2"/>
<line x1="689.5" y1="158" x2="708.5" y2="162.2" stroke="#c84040" stroke-width="0.6"/>
<circle cx="709.4" cy="162.5" r="2.1" fill="#e01818" stroke="#f2d8d8" stroke-width="0.8"/>
</g>
<g>
<path d="M421.9,509.1 C423,514 425,516.5 427.7,518.1 C431,521 436,525 439.1,529.5 C441.5,533 442.6,538 442.3,542.6 C442,547 440,551 435.8,554 C432,556.2 426,557 419.5,556.4 C415,556 411,554.5 407.5,551 C404.5,548 403,544.5 403.2,540.9 C403.2,535 405,530.5 408.5,526.3 C412,522.5 416,519 418.7,514.8 C420,513 421.2,511 421.9,509.1 Z" fill="url(#gWhite)"/>
<path d="M421.8,510 C421.5,515 419,518.5 416.5,520.5 C414,522.5 414,525.5 416.5,526.3 C419.5,527 420.5,523.5 420.6,520 C420.8,517 421.6,513 421.8,510 Z" fill="#e6b030"/>
<circle cx="444" cy="525.8" r="1.6" fill="#f2d36a"/>
<path d="M417,532 Q420,529.3 424,530.6 M432,530.4 Q436,529.3 438.6,531.6" stroke="#666" stroke-width="0.8" fill="none"/>
<circle cx="423.2" cy="538.5" r="5.2" fill="#0e1822"/><circle cx="434.2" cy="538.3" r="4.9" fill="#0e1822"/>
<ellipse cx="423.2" cy="541.2" rx="4.2" ry="2.3" fill="#58bcd8"/><ellipse cx="434.2" cy="541" rx="3.9" ry="2.2" fill="#58bcd8"/>
<circle cx="421.6" cy="536.6" r="1.5" fill="#fff"/><circle cx="432.6" cy="536.4" r="1.4" fill="#fff"/>
<ellipse cx="418.8" cy="545.8" rx="2.8" ry="1.1" fill="#f2b0a0"/><ellipse cx="438" cy="545.8" rx="2.6" ry="1.1" fill="#f2b0a0"/>
<path d="M426,547.4 Q429.3,548 432.6,547.4" stroke="#999" stroke-width="0.6" fill="none"/>
<path d="M409.5,545 l0.9,6 l0.9,-6 Z M419.7,553 l0.8,4.2 l0.8,-4.2 Z M430.5,552 l0.8,3.6 l0.8,-3.6 Z M413.5,542 l0.7,3.4 l0.7,-3.4 Z M435.5,550 l0.7,3 l0.7,-3 Z" fill="#e2b848"/>
</g>
<g>
<ellipse cx="941" cy="556.8" rx="20" ry="1.8" fill="#b0dcd8" opacity="0.85"/>
<path d="M938.6,518.1 C940.5,520 942,521.5 944.3,523 C947,525 949,527 950.8,529.5 C953,533 954.5,536 954.5,537.7 C955.3,540 955.2,542 954.9,544.2 C954.5,547 953.5,549 952.4,550.7 C950.5,553 948.5,554 946.7,554.8 C944,556 941,556.2 938.6,556 C935.5,556 933,555.6 930.4,554.8 C927.5,553.8 925.5,552.5 923.9,550.7 C921.5,548 920.6,546 920.6,544.2 C920.3,541.5 920.7,539.5 921.4,537.7 C922.5,534.5 923.8,532.5 925.5,530.3 C927.5,528 929.5,526.2 931.2,524.6 C933.5,522.5 935.5,521 936.9,519.7 Z" fill="url(#gAqua)" stroke="#2a3870" stroke-width="0.8"/>
<ellipse cx="939.4" cy="515.6" rx="3.2" ry="1.8" fill="#7cd2e6" stroke="#2a3870" stroke-width="0.5"/>
<path d="M938.2,517 L938.2,519" stroke="#2a3870" stroke-width="1"/>
<path d="M937.8,527 Q938.6,531 938.4,535" stroke="#3a98c0" stroke-width="1.3" fill="none"/>
<path d="M926.5,535.5 Q930,533.5 933.5,535 M942,535 Q945.5,533.5 949,535.5" stroke="#2a3870" stroke-width="0.6" fill="none"/>
<circle cx="931" cy="539.9" r="3.6" fill="#22264c"/><circle cx="944.9" cy="539.9" r="3.6" fill="#22264c"/>
<circle cx="932.4" cy="538.5" r="1.3" fill="#fff"/><circle cx="946.3" cy="538.5" r="1.3" fill="#fff"/>
<path d="M934.1,546.2 Q937,545.6 939.8,546.2 Q939.5,551.5 937,551.5 Q934.4,551.5 934.1,546.2 Z" fill="#e88a86" stroke="#2a2a50" stroke-width="0.5"/>
<ellipse cx="926.5" cy="545" rx="1.7" ry="0.8" fill="#f2a8a0"/><ellipse cx="949.5" cy="545" rx="1.7" ry="0.8" fill="#f2a8a0"/>
<circle cx="924.2" cy="528.2" r="1.4" fill="#7fd0e4"/><circle cx="954" cy="525.8" r="1.5" fill="#7fd0e4"/><circle cx="918" cy="547.5" r="1.1" fill="#9fdcec"/><circle cx="959" cy="543" r="1" fill="#9fdcec"/><circle cx="955.8" cy="552" r="1.2" fill="#7fd0e4"/><circle cx="930.8" cy="521.5" r="0.8" fill="#9fdcec"/><circle cx="944.5" cy="518.3" r="0.8" fill="#9fdcec"/>
</g>
<rect x="788.05" y="139.35" width="133.10" height="82.30" fill="#ff96ff" stroke="#ff3c50" stroke-width="1.5" />
<rect x="795.35" y="143.05" width="78.60" height="15.50" fill="#fff" stroke="#4b4bff" stroke-width="1.3" />
<text x="810.88" y="155.00" font-family="Liberation Sans" font-weight="bold" font-size="11.59" fill="#0000ff" textLength="48.78" lengthAdjust="spacingAndGlyphs"  stroke="#0000ff" stroke-width="0.22">HP Pump</text>
<circle cx="896.5" cy="151.2" r="10.899999999999999" fill="#c4c4c4" stroke="#8e8e8e" stroke-width="0.7" />
<circle cx="896.5" cy="151.2" r="9.408" fill="url(#gRed)" stroke="#9a9a9a" stroke-width="0.5" />
<rect x="791.05" y="165.05" width="86.80" height="14.80" fill="#fff" stroke="#4040ff" stroke-width="1.3" />
<rect x="881.05" y="165.05" width="34.10" height="14.80" fill="#fff" stroke="#4040ff" stroke-width="1.3" />
<rect x="791.05" y="184.35" width="86.80" height="15.10" fill="#fff" stroke="#4040ff" stroke-width="1.3" />
<rect x="881.05" y="184.35" width="34.10" height="15.10" fill="#fff" stroke="#4040ff" stroke-width="1.3" />
<rect x="791.05" y="203.95" width="86.80" height="14.90" fill="#fff" stroke="#4040ff" stroke-width="1.3" />
<rect x="881.05" y="203.95" width="34.10" height="14.90" fill="#fff" stroke="#4040ff" stroke-width="1.3" />
<text x="888.81" y="174.58" font-family="Liberation Sans" font-weight="normal" font-size="9.63" fill="#ff2020" textLength="18.62" lengthAdjust="spacingAndGlyphs"  stroke="#ff2020" stroke-width="0.12">( V )</text>
<text x="882.41" y="194.58" font-family="Liberation Sans" font-weight="normal" font-size="9.63" fill="#ff2020" textLength="31.50" lengthAdjust="spacingAndGlyphs"  stroke="#ff2020" stroke-width="0.12">( Amp )</text>
<text x="886.22" y="213.41" font-family="Liberation Sans" font-weight="normal" font-size="8.98" fill="#ff2020" textLength="23.81" lengthAdjust="spacingAndGlyphs"  stroke="#ff2020" stroke-width="0.12">( Hz )</text>
<rect x="523.05" y="258.95" width="101.00" height="43.40" fill="#ffff66" stroke="#ff5050" stroke-width="1.5" />
<rect x="526.95" y="268.95" width="93.10" height="30.40" fill="#fff" stroke="#ff2a2a" stroke-width="1.5" />
<rect x="534.15" y="248.65" width="78.90" height="15.60" fill="#fff" stroke="#5050ff" stroke-width="1.3" />
<text x="535.42" y="261.00" font-family="Liberation Sans" font-weight="bold" font-size="11.59" fill="#0000ff" textLength="77.11" lengthAdjust="spacingAndGlyphs"  stroke="#0000ff" stroke-width="0.22">Pressure (Bar)</text>
<rect x="534.95" y="366.15" width="79.10" height="37.80" fill="#99ccff" stroke="#ff5050" stroke-width="1.5" />
<rect x="539.75" y="375.55" width="70.30" height="22.20" fill="#fff" stroke="#ff2a2a" stroke-width="1.5" />
<rect x="544.75" y="355.85" width="61.50" height="15.80" fill="#fff" stroke="#5050ff" stroke-width="1.3" />
<text x="550.15" y="368.00" font-family="Liberation Sans" font-weight="bold" font-size="11.59" fill="#0000ff" textLength="51.42" lengthAdjust="spacingAndGlyphs"  stroke="#0000ff" stroke-width="0.22">PH (ppm)</text>
<rect x="748.05" y="288.15" width="78.70" height="37.80" fill="#99ccff" stroke="#ff5050" stroke-width="1.5" />
<rect x="752.85" y="297.55" width="70.20" height="22.20" fill="#fff" stroke="#ff2a2a" stroke-width="1.5" />
<rect x="757.75" y="277.85" width="61.40" height="15.80" fill="#fff" stroke="#5050ff" stroke-width="1.3" />
<text x="760.19" y="290.00" font-family="Liberation Sans" font-weight="bold" font-size="11.59" fill="#0000ff" textLength="57.38" lengthAdjust="spacingAndGlyphs"  stroke="#0000ff" stroke-width="0.22">TDS (ppm)</text>
<rect x="697.05" y="605.85" width="101.00" height="42.90" fill="#ffff66" stroke="#ff5050" stroke-width="1.5" />
<rect x="700.95" y="615.65" width="93.10" height="30.20" fill="#fff" stroke="#ff2a2a" stroke-width="1.5" />
<rect x="708.15" y="594.95" width="78.90" height="15.90" fill="#fff" stroke="#5050ff" stroke-width="1.3" />
<text x="709.58" y="607.80" font-family="Liberation Sans" font-weight="bold" font-size="11.59" fill="#0000ff" textLength="76.85" lengthAdjust="spacingAndGlyphs"  stroke="#0000ff" stroke-width="0.22">Pressure (Bar)</text>
<rect x="729.90" y="433.90" width="116.40" height="23.20" fill="#ffff66" stroke="#ff2020" stroke-width="1.2" />
<rect x="732.95" y="438.15" width="87.90" height="15.90" fill="#fff" stroke="#5050ff" stroke-width="1.3" />
<text x="741.79" y="450.90" font-family="Liberation Sans" font-weight="bold" font-size="11.30" fill="#0000ff" textLength="71.22" lengthAdjust="spacingAndGlyphs"  stroke="#0000ff" stroke-width="0.22">Low pressure</text>
<circle cx="833.6" cy="446.1" r="10.0" fill="#c4c4c4" stroke="#8e8e8e" stroke-width="0.7" />
<circle cx="833.6" cy="446.1" r="8.652000000000001" fill="url(#gRed)" stroke="#9a9a9a" stroke-width="0.5" />
<rect x="729.90" y="459.80" width="116.40" height="23.50" fill="#ffff66" stroke="#ff2020" stroke-width="1.2" />
<rect x="732.95" y="463.95" width="87.90" height="15.90" fill="#fff" stroke="#5050ff" stroke-width="1.3" />
<text x="740.59" y="475.60" font-family="Liberation Sans" font-weight="bold" font-size="11.30" fill="#0000ff" textLength="73.69" lengthAdjust="spacingAndGlyphs"  stroke="#0000ff" stroke-width="0.22">High pressure</text>
<circle cx="834.2" cy="471.9" r="10.0" fill="#c4c4c4" stroke="#8e8e8e" stroke-width="0.7" />
<circle cx="834.2" cy="471.9" r="8.652000000000001" fill="url(#gRed)" stroke="#9a9a9a" stroke-width="0.5" />
<rect x="1160.55" y="155.15" width="278.40" height="343.50" fill="#fff" stroke="#3a3a3a" stroke-width="1.3" />
<rect x="1196.65" y="166.95" width="200.50" height="15.90" fill="#fff" stroke="#5050ff" stroke-width="1.3" />
<text x="1226.80" y="178.90" font-family="Liberation Sans" font-weight="bold" font-size="11.30" fill="#0000ff" textLength="140.89" lengthAdjust="spacingAndGlyphs"  stroke="#0000ff" stroke-width="0.2">Water Production Capacity</text>
<rect x="1168.05" y="195.35" width="263.00" height="93.60" fill="#999999" stroke="#ff4040" stroke-width="1.5" />
<rect x="1170.15" y="207.55" width="123.80" height="16.90" fill="#fff" stroke="#3a3a3a" stroke-width="1.5" />
<text x="1180.16" y="220.90" font-family="Liberation Sans" font-weight="bold" font-size="11.30" fill="#0000ff" textLength="105.04" lengthAdjust="spacingAndGlyphs"  stroke="#0000ff" stroke-width="0.2">Permeate  this total</text>
<rect x="1298.65" y="203.05" width="81.60" height="23.30" fill="#00ff00" stroke="#e03a3a" stroke-width="1.5" />
<rect x="1383.15" y="206.75" width="45.80" height="15.00" fill="#fff" stroke="#3a3a3a" stroke-width="1.5" />
<text x="1392.36" y="217.70" font-family="Liberation Sans" font-weight="bold" font-size="10.14" fill="#0000ff" textLength="28.54" lengthAdjust="spacingAndGlyphs"  stroke="#0000ff" stroke-width="0.22">( m3 )</text>
<rect x="1170.15" y="235.55" width="123.80" height="16.40" fill="#fff" stroke="#3a3a3a" stroke-width="1.5" />
<text x="1177.65" y="247.70" font-family="Liberation Sans" font-weight="bold" font-size="11.45" fill="#0000ff" textLength="110.38" lengthAdjust="spacingAndGlyphs"  stroke="#0000ff" stroke-width="0.2">Consented  this total</text>
<rect x="1298.65" y="230.75" width="81.60" height="23.50" fill="#ff9999" stroke="#e03a3a" stroke-width="1.5" />
<rect x="1383.15" y="236.05" width="45.80" height="15.40" fill="#fff" stroke="#3a3a3a" stroke-width="1.5" />
<text x="1392.36" y="247.00" font-family="Liberation Sans" font-weight="bold" font-size="10.14" fill="#0000ff" textLength="28.54" lengthAdjust="spacingAndGlyphs"  stroke="#0000ff" stroke-width="0.22">( m3 )</text>
<rect x="1170.15" y="262.35" width="123.80" height="16.80" fill="#fff" stroke="#3a3a3a" stroke-width="1.5" />
<text x="1177.00" y="274.50" font-family="Liberation Sans" font-weight="bold" font-size="10.87" fill="#0000ff" textLength="111.87" lengthAdjust="spacingAndGlyphs"  stroke="#0000ff" stroke-width="0.2">Water Inlet this total</text>
<rect x="1298.65" y="257.95" width="81.60" height="23.60" fill="#00ffff" stroke="#e03a3a" stroke-width="1.5" />
<rect x="1383.15" y="262.25" width="45.80" height="15.70" fill="#fff" stroke="#3a3a3a" stroke-width="1.5" />
<text x="1392.36" y="273.20" font-family="Liberation Sans" font-weight="bold" font-size="10.14" fill="#0000ff" textLength="28.54" lengthAdjust="spacingAndGlyphs"  stroke="#0000ff" stroke-width="0.22">( m3 )</text>
<rect x="1196.25" y="320.95" width="200.70" height="15.20" fill="#fff" stroke="#5050ff" stroke-width="1.3" />
<text x="1224.03" y="332.70" font-family="Liberation Sans" font-weight="bold" font-size="11.01" fill="#0000ff" textLength="145.62" lengthAdjust="spacingAndGlyphs"  stroke="#0000ff" stroke-width="0.2">(Multifunction Power Meter</text>
<rect x="1168.05" y="347.05" width="262.40" height="143.40" fill="#999999" stroke="#ff4040" stroke-width="1.5" />
<rect x="1178.50" y="357.20" width="198.30" height="23.60" fill="#ffff66" stroke="#ff4a3a" stroke-width="1.4" />
<rect x="1182.10" y="360.10" width="112.10" height="18.10" fill="#fff" stroke="#5a5aff" stroke-width="1.4" />
<rect x="1296.00" y="360.10" width="79.30" height="18.10" fill="#fff" stroke="#5a5aff" stroke-width="1.4" />
<text x="1203.79" y="374.00" font-family="Liberation Sans" font-weight="bold" font-size="11.01" fill="#0000ff" textLength="66.40" lengthAdjust="spacingAndGlyphs"  stroke="#0000ff" stroke-width="0.2">Total Energy</text>
<rect x="1380.15" y="357.35" width="40.60" height="21.30" fill="#fff" stroke="#3a3a3a" stroke-width="1.5" />
<text x="1380.50" y="372.70" font-family="Liberation Sans" font-weight="bold" font-size="10.87" fill="#0000ff" textLength="39.76" lengthAdjust="spacingAndGlyphs"  stroke="#0000ff" stroke-width="0.2">( kWh )</text>
<rect x="1178.50" y="383.60" width="198.30" height="23.30" fill="#ffff66" stroke="#ff4a3a" stroke-width="1.4" />
<rect x="1182.10" y="387.20" width="112.10" height="17.90" fill="#fff" stroke="#5a5aff" stroke-width="1.4" />
<rect x="1296.00" y="387.20" width="79.30" height="17.90" fill="#fff" stroke="#5a5aff" stroke-width="1.4" />
<text x="1205.06" y="400.80" font-family="Liberation Sans" font-weight="bold" font-size="11.01" fill="#0000ff" textLength="67.37" lengthAdjust="spacingAndGlyphs"  stroke="#0000ff" stroke-width="0.2">Real Voltage</text>
<rect x="1380.15" y="384.05" width="40.60" height="21.40" fill="#fff" stroke="#3a3a3a" stroke-width="1.5" />
<text x="1389.17" y="399.90" font-family="Liberation Sans" font-weight="bold" font-size="11.45" fill="#0000ff" textLength="23.74" lengthAdjust="spacingAndGlyphs"  stroke="#0000ff" stroke-width="0.2">( V )</text>
<rect x="1178.50" y="410.80" width="198.30" height="23.50" fill="#ffff66" stroke="#ff4a3a" stroke-width="1.4" />
<rect x="1182.10" y="414.70" width="112.10" height="17.10" fill="#fff" stroke="#5a5aff" stroke-width="1.4" />
<rect x="1296.00" y="414.70" width="79.30" height="17.10" fill="#fff" stroke="#5a5aff" stroke-width="1.4" />
<text x="1205.17" y="427.90" font-family="Liberation Sans" font-weight="bold" font-size="11.01" fill="#0000ff" textLength="66.95" lengthAdjust="spacingAndGlyphs"  stroke="#0000ff" stroke-width="0.2">Real Current</text>
<rect x="1380.15" y="412.25" width="40.60" height="21.40" fill="#fff" stroke="#3a3a3a" stroke-width="1.5" />
<text x="1388.56" y="428.00" font-family="Liberation Sans" font-weight="bold" font-size="11.01" fill="#0000ff" textLength="24.08" lengthAdjust="spacingAndGlyphs"  stroke="#0000ff" stroke-width="0.2">( A )</text>
<rect x="1178.50" y="438.20" width="198.30" height="23.20" fill="#ffff66" stroke="#ff4a3a" stroke-width="1.4" />
<rect x="1182.10" y="440.70" width="112.10" height="18.70" fill="#fff" stroke="#5a5aff" stroke-width="1.4" />
<rect x="1296.00" y="440.70" width="79.30" height="18.70" fill="#fff" stroke="#5a5aff" stroke-width="1.4" />
<text x="1204.13" y="454.70" font-family="Liberation Sans" font-weight="bold" font-size="11.01" fill="#0000ff" textLength="68.84" lengthAdjust="spacingAndGlyphs"  stroke="#0000ff" stroke-width="0.2">Active Power</text>
<rect x="1380.15" y="439.05" width="40.60" height="21.20" fill="#fff" stroke="#3a3a3a" stroke-width="1.5" />
<text x="1386.57" y="454.70" font-family="Liberation Sans" font-weight="bold" font-size="10.29" fill="#0000ff" textLength="27.20" lengthAdjust="spacingAndGlyphs"  stroke="#0000ff" stroke-width="0.2">( W )</text>
<rect x="1178.50" y="464.80" width="198.30" height="23.20" fill="#ffff66" stroke="#ff4a3a" stroke-width="1.4" />
<rect x="1182.10" y="467.30" width="112.10" height="18.20" fill="#fff" stroke="#5a5aff" stroke-width="1.4" />
<rect x="1296.00" y="467.30" width="79.30" height="18.20" fill="#fff" stroke="#5a5aff" stroke-width="1.4" />
<text x="1196.69" y="480.70" font-family="Liberation Sans" font-weight="bold" font-size="11.01" fill="#0000ff" textLength="80.79" lengthAdjust="spacingAndGlyphs"  stroke="#0000ff" stroke-width="0.2">Real Frequency</text>
<rect x="1380.15" y="465.35" width="40.60" height="21.10" fill="#fff" stroke="#3a3a3a" stroke-width="1.5" />
<text x="1385.60" y="479.80" font-family="Liberation Sans" font-weight="bold" font-size="10.00" fill="#0000ff" textLength="29.39" lengthAdjust="spacingAndGlyphs"  stroke="#0000ff" stroke-width="0.2">( Hz )</text>
</svg>
</body></html>
